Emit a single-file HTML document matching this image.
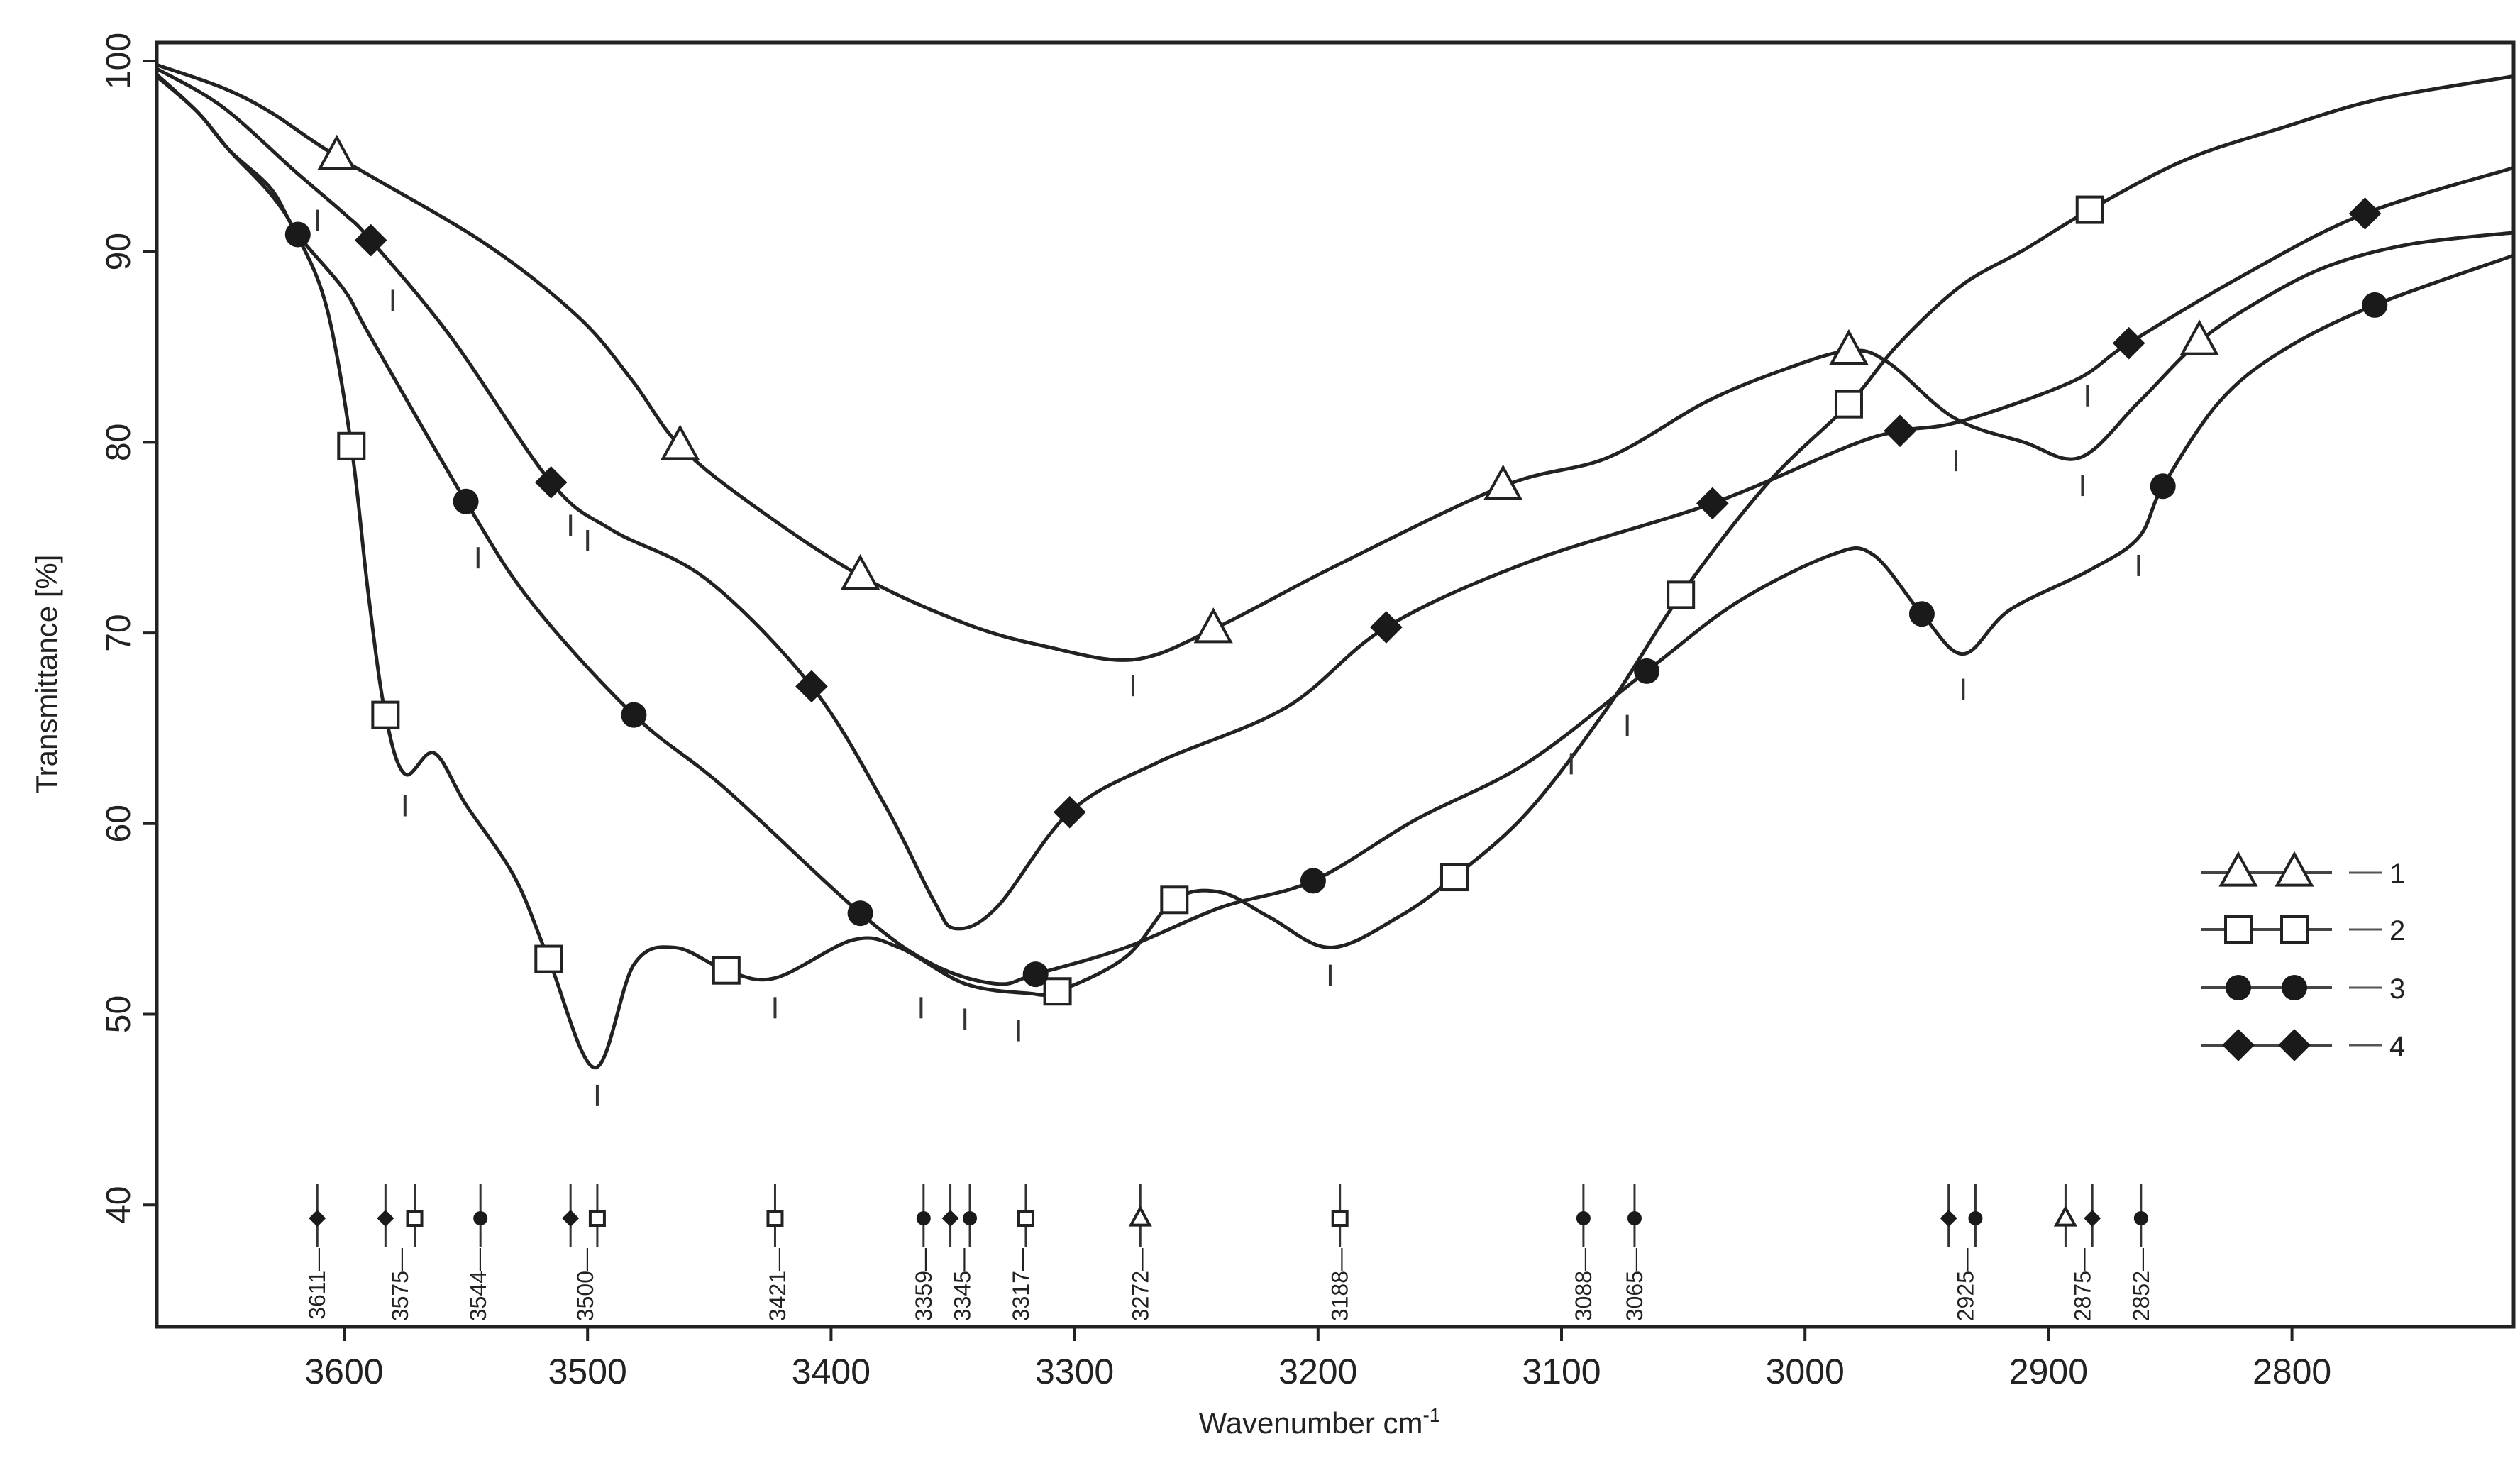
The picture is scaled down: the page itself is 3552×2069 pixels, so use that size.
<!DOCTYPE html>
<html><head><meta charset="utf-8"><style>
html,body{margin:0;padding:0;background:#fff;}
svg{display:block;}
text{font-family:"Liberation Sans",sans-serif;fill:#222;}
</style></head><body>
<svg id="chart" width="3552" height="2069" viewBox="0 0 3552 2069" xmlns="http://www.w3.org/2000/svg">
<g id="axes"></g>
<g id="series"></g>
<g id="annot"></g>
<g id="legend"></g>
</svg>
<script>
// ---- data ----
const xTicks = [3600,3500,3400,3300,3200,3100,3000,2900,2800];
const yTicks = [40,50,60,70,80,90,100];
const curve1 = [[3677,99.8],[3650,98.6],[3630,97.3],[3603,95],[3543,90.5],[3504,86.6],[3482,83.3],[3462,79.8],[3431,76.6],[3388,73],[3345,70.5],[3312,69.3],[3276,68.6],[3243,70.2],[3193,73.5],[3124,77.7],[3081,79.2],[3041,82.1],[3009,83.8],[2982,84.8],[2966,84.2],[2939,81.3],[2910,80],[2887,79.2],[2863,82.1],[2838,85.3],[2811,87.6],[2784,89.3],[2751,90.4],[2709,91]];
const curve2 = [[3677,99.2],[3660,97.3],[3647,95.3],[3630,93],[3619,90.8],[3607,87],[3597,79.8],[3590,72],[3583,65.7],[3575,62.6],[3563,63.7],[3550,61],[3530,57.2],[3516,52.9],[3497,47.2],[3481,52.6],[3464,53.5],[3443,52.3],[3423,51.9],[3391,53.9],[3372,53.5],[3345,51.6],[3319,51.1],[3307,51.2],[3279,53],[3259,56],[3240,56.4],[3220,55.1],[3195,53.5],[3167,55.1],[3144,57.2],[3114,60.6],[3081,66.1],[3051,72],[3015,77.9],[2982,82],[2962,85.1],[2936,88.2],[2910,90.1],[2883,92.2],[2844,94.8],[2804,96.5],[2764,98],[2709,99.2]];
const curve3 = [[3677,99.3],[3660,97.3],[3647,95.3],[3630,93.3],[3619,90.9],[3600,88],[3589,85.5],[3550,76.9],[3523,71.6],[3481,65.7],[3444,61.9],[3388,55.3],[3358,52.6],[3332,51.6],[3316,52.1],[3279,53.5],[3240,55.6],[3202,57],[3160,60.2],[3114,63.2],[3065,68],[3028,71.6],[2989,74.1],[2972,74.1],[2952,71],[2935,68.9],[2916,71.2],[2883,73.3],[2863,75],[2853,77.7],[2830,82.1],[2804,84.8],[2766,87.2],[2709,89.8]];
const curve4 = [[3677,99.6],[3650,97.6],[3620,94.2],[3600,92],[3589,90.6],[3556,85.5],[3515,77.9],[3490,75.4],[3451,72.8],[3408,67.2],[3378,61],[3358,56],[3349,54.5],[3332,55.6],[3302,60.6],[3266,63.2],[3213,66.1],[3172,70.3],[3114,73.7],[3038,76.8],[2982,79.8],[2961,80.6],[2936,81.1],[2890,83.2],[2867,85.2],[2818,88.9],[2770,92],[2709,94.4]];
const markers1 = [3603,3462,3388,3243,3124,2982,2838];
const markers2 = [3597,3583,3516,3443,3307,3259,3144,3051,2982,2883];
const markers3 = [3619,3550,3481,3388,3316,3202,3065,2952,2853,2766];
const markers4 = [3589,3515,3408,3302,3172,3038,2961,2867,2770];
const peakTickW = [3611,3580,3575,3545,3507,3500,3496,3423,3363,3345,3323,3276,3195,3096,3073,2938,2935,2886,2884,2863];
const peakTickT = [92.2,88,61.5,74.5,76.2,75.4,46.3,50.9,50.9,50.3,49.7,67.8,52.6,63.7,65.7,79.6,67.6,78.3,83,74.1];
const annotW = [3611,3583,3571,3544,3507,3496,3423,3362,3351,3343,3320,3273,3191,3091,3070,2941,2930,2893,2882,2862];
const annotShape = ['d','d','s','c','d','s','s','c','d','c','s','t','s','c','c','d','c','t','d','c'];
const labelText = ['3611','3575','3544','3500','3421','3359','3345','3317','3272','3188','3088','3065','2925','2875','2852'];
const labelW = [3611,3577,3545,3501,3422,3362,3346,3322,3273,3191,3091,3070,2934,2886,2862];
// ---- scales ----
const X = w => 485 + (3600 - w) * 3.432;
const Y = t => 86 + (100 - t) * 26.87;
const NS = 'http://www.w3.org/2000/svg';
function mk(tag, attrs, parent){const e=document.createElementNS(NS,tag);for(const k in attrs)e.setAttribute(k,attrs[k]);parent.appendChild(e);return e;}
const axes=document.getElementById('axes'), series=document.getElementById('series'), annot=document.getElementById('annot'), legend=document.getElementById('legend');
const L=221,R=3543,T0=60,B=1870;
const frame=mk('rect',{x:L,y:T0,width:R-L,height:B-T0,fill:'none',stroke:'#222','stroke-width':5},axes);


xTicks.forEach(v=>{
  const t=mk('line',{x1:X(v),x2:X(v),y1:B,y2:B+20,stroke:'#222','stroke-width':4},axes);
  
  
  const l=mk('text',{x:X(v),y:B+80,'font-size':50,'text-anchor':'middle'},axes);
  l.textContent=v;
  
  
});
yTicks.forEach(v=>{
  const t=mk('line',{x1:L-20,x2:L,y1:Y(v),y2:Y(v),stroke:'#222','stroke-width':4},axes);
  
  
  const l=mk('text',{x:0,y:0,'font-size':48,'text-anchor':'middle',transform:`translate(${L-38},${Y(v)}) rotate(-90)`},axes);
  l.textContent=v;
  
  
});
const yt=mk('text',{x:0,y:0,'font-size':42,'text-anchor':'middle',transform:'translate(80,950) rotate(-90)'},axes);
yt.textContent='Transmittance [%]';


const xt=mk('text',{x:1860,y:2020,'font-size':42,'text-anchor':'middle'},axes);
xt.innerHTML='Wavenumber cm<tspan dy="-16" font-size="28">-1</tspan>';



function smoothPath(pts){
  const p=pts.map(d=>[X(d[0]),Y(d[1])]);
  let s=`M${p[0][0]},${p[0][1]}`;
  for(let i=0;i<p.length-1;i++){
    const p0=p[i-1]||p[i],p1=p[i],p2=p[i+1],p3=p[i+2]||p2;
    const c1=[p1[0]+(p2[0]-p0[0])/6,p1[1]+(p2[1]-p0[1])/6];
    const c2=[p2[0]-(p3[0]-p1[0])/6,p2[1]-(p3[1]-p1[1])/6];
    s+=` C${c1[0]},${c1[1]} ${c2[0]},${c2[1]} ${p2[0]},${p2[1]}`;
  }
  return s;
}
function interp(c,w){
  for(let i=0;i<c.length-1;i++){if(w<=c[i][0]&&w>=c[i+1][0]){const f=(c[i][0]-w)/(c[i][0]-c[i+1][0]);return c[i][1]+f*(c[i+1][1]-c[i][1]);}}
  return c[c.length-1][1];
}
function marker(shape,cx,cy,sz,parent){
  let e;
  if(shape==='t'){const h=sz;e=mk('polygon',{points:`${cx},${cy-h*0.6} ${cx-h*0.55},${cy+h*0.4} ${cx+h*0.55},${cy+h*0.4}`,fill:'#fff',stroke:'#222','stroke-width':4},parent);}
  else if(shape==='s'){e=mk('rect',{x:cx-sz/2,y:cy-sz/2,width:sz,height:sz,fill:'#fff',stroke:'#222','stroke-width':4},parent);}
  else if(shape==='c'){e=mk('circle',{cx:cx,cy:cy,r:sz/2,fill:'#1a1a1a'},parent);}
  else {const r=sz*0.6;e=mk('polygon',{points:`${cx},${cy-r} ${cx+r},${cy} ${cx},${cy+r} ${cx-r},${cy}`,fill:'#1a1a1a'},parent);}
  return e;
}
const curves=[curve1,curve2,curve3,curve4], mks=[markers1,markers2,markers3,markers4], shapes=['t','s','c','d'], sizes=[44,36,36,38];
curves.forEach((c,i)=>{
  const p=mk('path',{d:smoothPath(c),fill:'none',stroke:'#222','stroke-width':5},series);
  
  
  mks[i].forEach(w=>{
    const m=marker(shapes[i],X(w),Y(interp(c,w)),sizes[i],series);
    
    
  });
});
peakTickW.forEach((w,i)=>{
  const t=mk('line',{x1:X(w),x2:X(w),y1:Y(peakTickT[i]),y2:Y(peakTickT[i])+30,stroke:'#333','stroke-width':4},annot);
  
  
});
const aY=Y(39.3);
annotW.forEach((w,i)=>{
  const x=X(w);
  const s=mk('line',{x1:x,x2:x,y1:aY-48,y2:aY+40,stroke:'#333','stroke-width':3},annot);
  
  
  const m=marker(annotShape[i],x,aY,annotShape[i]==='t'?24:20,annot);
  
  
});
labelText.forEach((txt,i)=>{
  const l=mk('text',{x:0,y:0,'font-size':32,'text-anchor':'end',transform:`translate(${X(labelW[i])+11},${aY+42}) rotate(-90)`},annot);
  l.textContent=txt+'—';
  
  
});
// legend
const legY=[1230,1310,1392,1473];
legY.forEach((y,i)=>{
  const ln=mk('line',{x1:3103,x2:3287,y1:y,y2:y,stroke:'#444','stroke-width':4},legend);
  
  
  [3155,3234].forEach(x=>{
    const m=marker(shapes[i],x,y,sizes[i],legend);
    
    
  });
  const d=mk('line',{x1:3311,x2:3358,y1:y,y2:y,stroke:'#555','stroke-width':3},legend);
  
  
  const t=mk('text',{x:3368,y:y+15,'font-size':40},legend);
  t.textContent=String(i+1);
  
  
});
</script>
</body></html>
